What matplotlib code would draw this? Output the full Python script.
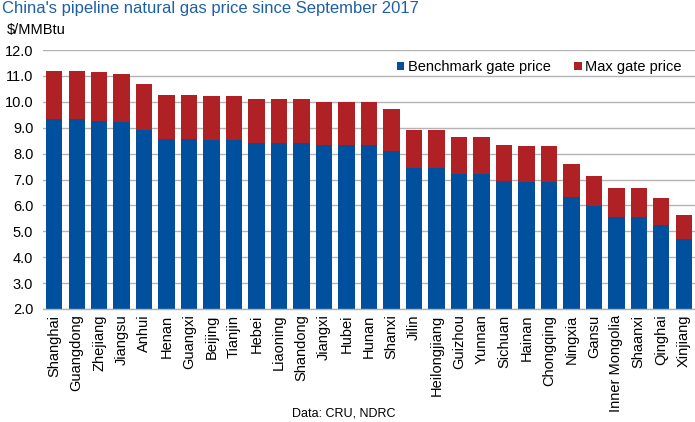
import matplotlib
matplotlib.use("Agg")
import matplotlib.pyplot as plt
import numpy as np

provinces = ["Shanghai", "Guangdong", "Zhejiang", "Jiangsu", "Anhui", "Henan", "Guangxi",
             "Beijing", "Tianjin", "Hebei", "Liaoning", "Shandong", "Jiangxi", "Hubei",
             "Hunan", "Shanxi", "Jilin", "Heilongjiang", "Guizhou", "Yunnan", "Sichuan",
             "Hainan", "Chongqing", "Ningxia", "Gansu", "Inner Mongolia", "Shaanxi",
             "Qinghai", "Xinjiang"]
benchmark = [9.34, 9.34, 9.27, 9.22, 8.92, 8.56, 8.56, 8.53, 8.53, 8.41, 8.41, 8.41, 8.33, 8.33,
             8.33, 8.10, 7.46, 7.46, 7.21, 7.21, 6.94, 6.90, 6.90, 6.31, 5.98, 5.54, 5.54,
             5.23, 4.69]
max_price = [11.20, 11.20, 11.15, 11.07, 10.69, 10.27, 10.27, 10.23, 10.23, 10.11, 10.11, 10.11,
             10.00, 10.00, 10.00, 9.72, 8.92, 8.92, 8.64, 8.64, 8.33, 8.29, 8.29, 7.60, 7.15,
             6.67, 6.67, 6.29, 5.63]
yticks = [2.0, 3.0, 4.0, 5.0, 6.0, 7.0, 8.0, 9.0, 10.0, 11.0, 12.0]

plt.rcParams['font.family'] = ['Liberation Sans', 'DejaVu Sans']

BLUE = "#00509e"
RED = "#b02125"

fig = plt.figure(figsize=(6.95, 4.22), dpi=100)
ax = fig.add_axes([43/695, 1 - 309/422, 1 - 43/695, (309 - 50)/422])

x = np.arange(len(provinces))
bench = np.array(benchmark)
upper = np.array(max_price) - bench
ax.bar(x, bench, width=0.73, color=BLUE, label="Benchmark gate price", zorder=2)
ax.bar(x, upper, bottom=bench, width=0.73, color=RED, label="Max gate price", zorder=2)

ax.set_xlim(-0.5, len(provinces) - 0.5)
ax.set_ylim(2.0, 12.0)
ax.set_yticks(yticks)
ax.set_yticklabels([f"{v:.1f}" for v in yticks], fontsize=10.5)
ax.set_xticks(x)
ax.set_xticklabels(provinces, rotation=90, fontsize=10.5)
ax.tick_params(axis='x', length=0, pad=4)
ax.tick_params(axis='y', length=0, pad=7)
ax.yaxis.grid(True, color="#b3b3b3", linewidth=1.0, zorder=0)
ax.set_axisbelow(True)
for s in ["left", "right", "top"]:
    ax.spines[s].set_visible(False)
ax.spines["bottom"].set_color("#b3b3b3")
ax.spines["bottom"].set_linewidth(1.0)
ax.spines["bottom"].set_zorder(3)

leg = ax.legend(loc="upper right", bbox_to_anchor=(0.993, 0.995), ncol=2, frameon=False,
                fontsize=10.5, handlelength=0.5, handleheight=0.5, handletextpad=0.25,
                columnspacing=1.6, borderaxespad=0.2)

fig.text(2/695, 1 - 8/422, "China's pipeline natural gas price since September 2017",
         color="#1f5fa8", fontsize=12, va="center", ha="left")
fig.text(7/695, 1 - 30/422, r"\$/MMBtu", color="black", fontsize=10.5, va="center", ha="left")
fig.text(344/695, 1 - 414/422, "Data: CRU, NDRC", color="black", fontsize=9,
         va="center", ha="center")

fig.savefig("out.png", dpi=100)
